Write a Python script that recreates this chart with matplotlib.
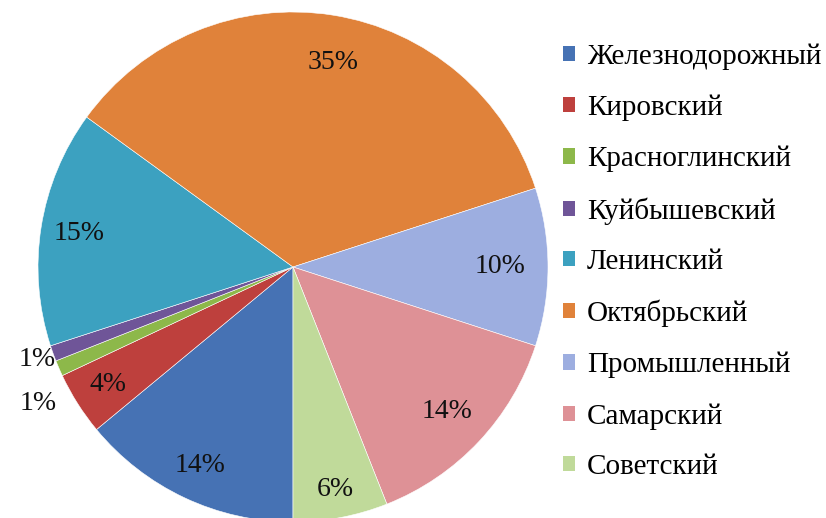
import numpy as np
import matplotlib.pyplot as plt
from matplotlib.patches import Patch

districts = ["Железнодорожный", "Кировский", "Красноглинский", "Куйбышевский",
             "Ленинский", "Октябрьский", "Промышленный", "Самарский", "Советский"]
shares = [14, 4, 1, 1, 15, 35, 10, 14, 6]
colors = ["#4672B4", "#BE403D", "#8DB84A", "#6F5598", "#3CA1C0",
          "#E0823A", "#9DAEE0", "#DE9196", "#C0DA9A"]
# how far from the centre each percentage sits (fraction of radius)
label_dist = [0.86, 0.86, 1.1, 1.1, 0.85, 0.81, 0.81, 0.83, 0.89]

plt.rcParams['font.family'] = ['Liberation Serif', 'DejaVu Serif']

fig = plt.figure(figsize=(8.26, 5.18), dpi=100)
W, H = 826, 518
ax = fig.add_axes([38 / W, -4 / H, 510 / W, 510 / H])

wedges, texts, autotexts = ax.pie(
    shares, colors=colors, startangle=-90, counterclock=False,
    autopct=lambda p: "%d%%" % round(p), pctdistance=0.85,
    wedgeprops=dict(edgecolor="white", linewidth=0.4),
    textprops=dict(fontsize=20, color="#111111"))
ax.set_xlim(-1, 1)
ax.set_ylim(-1, 1)
ax.set_aspect("equal")

total = float(sum(shares))
cum = np.cumsum([0] + shares)
for i, v in enumerate(shares):
    mid = (cum[i] + v / 2) / total * 360.0
    ang = np.deg2rad(-90 - mid)
    x, y = label_dist[i] * np.cos(ang), label_dist[i] * np.sin(ang)
    if districts[i] == "Красноглинский":
        x, y = x + 0.01, y - 0.1
    elif districts[i] == "Куйбышевский":
        x, y = x + 0.03, y + 0.01
    elif districts[i] == "Октябрьский":
        x += 0.03
    autotexts[i].set_position((x, y))

handles = [Patch(facecolor=c, edgecolor="none") for c in colors]
fig.legend(handles, districts, loc="upper left", bbox_to_anchor=(548 / W, 1 - 29 / H),
           frameon=False, fontsize=21, handlelength=0.42, handleheight=0.42,
           handletextpad=0.42, labelspacing=0.845, borderpad=0)

fig.savefig("out.png", dpi=100)
